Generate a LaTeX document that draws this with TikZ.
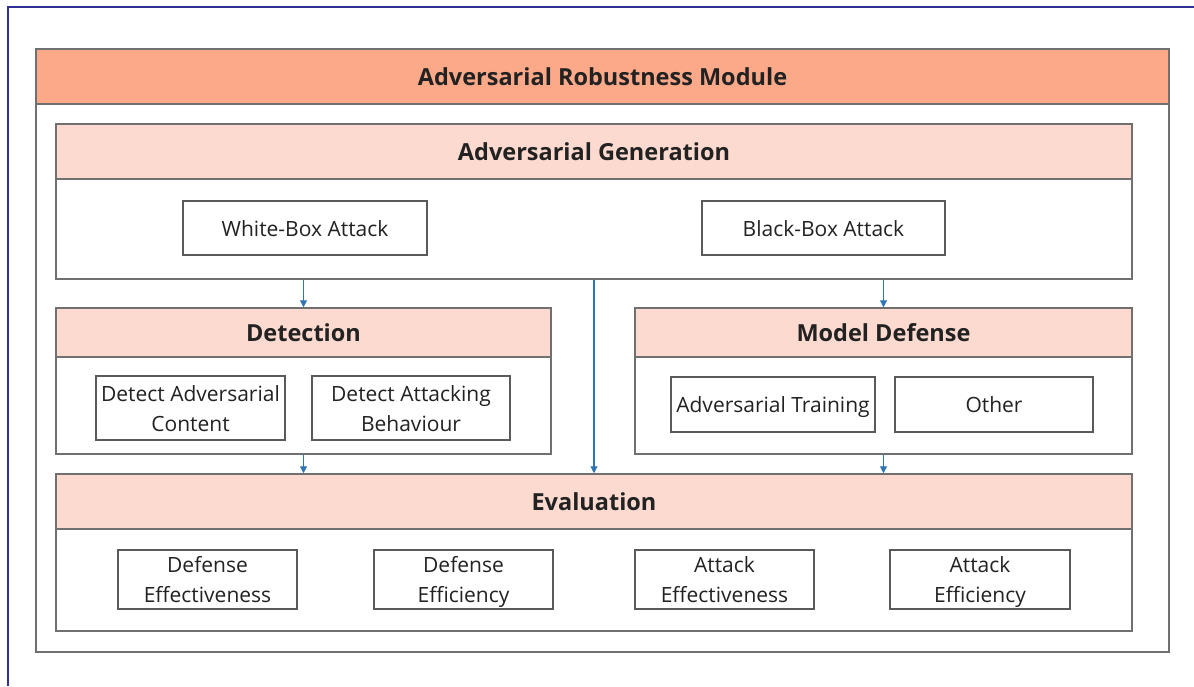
\documentclass[tikz,border=0pt]{standalone}
\usepackage{fontspec}
\setmainfont{Open Sans}
\usetikzlibrary{arrows.meta}
\definecolor{hdrdark}{HTML}{FCA98A}
\definecolor{hdrlight}{HTML}{FDDAD0}
\definecolor{boxline}{HTML}{707070}
\definecolor{itemline}{HTML}{5A5A5A}
\definecolor{arrblue}{HTML}{2E75B6}
\definecolor{framecol}{HTML}{2E3192}
\definecolor{txt}{HTML}{222222}
\newcommand{\ls}{\rule[-6.5pt]{0pt}{29pt}}
\tikzset{
  panel/.style={draw=boxline, line width=1.5pt, inner sep=0pt, fill=white},
  hdr/.style={draw=boxline, line width=1.5pt, inner sep=0pt, font=\fontsize{23.5}{28}\selectfont\bfseries, text=txt},
  item/.style={draw=itemline, line width=1.1pt, inner sep=0pt, align=center, font=\fontsize{21}{30}\selectfont, text=txt, fill=white},
  arr/.style={draw=arrblue, line width=1.1pt, -{Triangle[width=7pt,length=7pt]}},
}
\begin{document}
\begin{tikzpicture}[x=1pt,y=-1pt]
\useasboundingbox (0,0) rectangle (1194,686);
\fill[white] (0,0) rectangle (1194,686);
% frame
\draw[framecol, line width=2pt] (8,686) -- (8,7) -- (1194,7);
% outer module
\node[panel, line width=1.8pt, minimum width=1133pt, minimum height=603pt] (mod) at (602.5,350.5) {};
\node[hdr, fill=hdrdark, minimum width=1133pt, minimum height=55pt, line width=1.8pt] (modh) at (602.5,76.5) {Adversarial Robustness Module};
% generation
\node[panel, minimum width=1076pt, minimum height=155pt] (gen) at (594,201.5) {};
\node[hdr, fill=hdrlight, minimum width=1076pt, minimum height=55pt] (genh) at (594,151.5) {Adversarial Generation};
\node[item, minimum width=244pt, minimum height=54pt] (wb) at (305,228) {White-Box Attack\ls};
\node[item, minimum width=243pt, minimum height=54pt] (bb) at (823.5,228) {Black-Box Attack\ls};
% detection
\node[panel, minimum width=495pt, minimum height=146pt] (det) at (303.5,381) {};
\node[hdr, fill=hdrlight, minimum width=495pt, minimum height=49pt] (deth) at (303.5,332.5) {Detection};
\node[item, minimum width=189pt, minimum height=64pt] (dac) at (190.5,408) {Detect Adversarial\ls\\Content\ls};
\node[item, minimum width=198pt, minimum height=64pt] (dab) at (411,408) {Detect Attacking\ls\\Behaviour\ls};
% model defense
\node[panel, minimum width=497pt, minimum height=146pt] (md) at (883.5,381) {};
\node[hdr, fill=hdrlight, minimum width=497pt, minimum height=49pt] (mdh) at (883.5,332.5) {Model Defense};
\node[item, minimum width=204pt, minimum height=55pt] (at) at (773,404.5) {Adversarial Training\ls};
\node[item, minimum width=198pt, minimum height=55pt] (oth) at (994,404.5) {Other\ls};
% evaluation
\node[panel, minimum width=1076pt, minimum height=157pt] (ev) at (594,552.5) {};
\node[hdr, fill=hdrlight, minimum width=1076pt, minimum height=55pt] (evh) at (594,501.5) {Evaluation};
\node[item, minimum width=179pt, minimum height=59pt] (de) at (207.5,579.5) {Defense\ls\\Effectiveness\ls};
\node[item, minimum width=179pt, minimum height=59pt] (def) at (463.5,579.5) {Defense\ls\\Efficiency\ls};
\node[item, minimum width=179pt, minimum height=59pt] (ae) at (724.5,579.5) {Attack\ls\\Effectiveness\ls};
\node[item, minimum width=180pt, minimum height=59pt] (aef) at (980,579.5) {Attack\ls\\Efficiency\ls};
% arrows
\draw[arr] (gen.south -| deth.north) -- (deth.north);
\draw[arr] (gen.south -| mdh.north) -- (mdh.north);
\draw[arr] (gen.south) -- (evh.north);
\draw[arr] (det.south) -- (evh.north -| det.south);
\draw[arr] (md.south) -- (evh.north -| md.south);
\end{tikzpicture}
\end{document}
